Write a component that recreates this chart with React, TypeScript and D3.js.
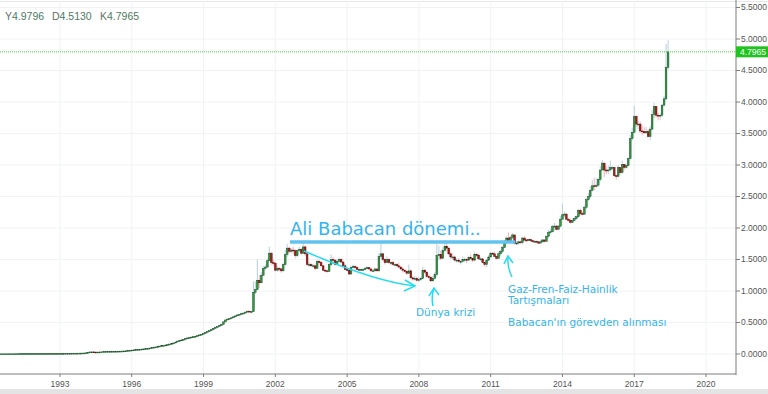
import React, { useEffect } from "react";
import * as d3 from "d3";

const WIDTH = 768;
const HEIGHT = 394;

// monthly closes Jan 1990 - Dec 2000
const closes1990s = [
  0.0022, 0.0022, 0.0023, 0.0023, 0.0023, 0.0024, 0.0025, 0.0026, 0.0026, 0.0027, 0.0028, 0.0029,
  0.003, 0.0032, 0.0035, 0.0038, 0.004, 0.0042, 0.0044, 0.0046, 0.0048, 0.0049, 0.005, 0.005,
  0.0052, 0.0055, 0.0058, 0.0061, 0.0064, 0.0066, 0.0068, 0.007, 0.0073, 0.0076, 0.008, 0.0085,
  0.0088, 0.0091, 0.0095, 0.0099, 0.0103, 0.0108, 0.0113, 0.0118, 0.0122, 0.0128, 0.0135, 0.0145,
  0.016, 0.0185, 0.0215, 0.033, 0.034, 0.031, 0.0305, 0.031, 0.0325, 0.0345, 0.0365, 0.0385,
  0.04, 0.041, 0.042, 0.043, 0.043, 0.044, 0.045, 0.046, 0.048, 0.05, 0.054, 0.059,
  0.062, 0.065, 0.068, 0.072, 0.075, 0.078, 0.081, 0.085, 0.089, 0.094, 0.1, 0.107,
  0.112, 0.118, 0.126, 0.132, 0.137, 0.143, 0.15, 0.158, 0.166, 0.175, 0.19, 0.205,
  0.215, 0.224, 0.233, 0.245, 0.255, 0.263, 0.269, 0.274, 0.282, 0.291, 0.303, 0.314,
  0.328, 0.345, 0.358, 0.371, 0.388, 0.408, 0.425, 0.437, 0.45, 0.47, 0.51, 0.54,
  0.555, 0.565, 0.575, 0.59, 0.605, 0.62, 0.63, 0.64, 0.65, 0.665, 0.68, 0.672,
];

// monthly closes Jan 2001 - Jun 2018
const closes2001on = [
  0.673, 0.98, 1.02, 1.17, 1.13, 1.25, 1.36, 1.38, 1.48, 1.6, 1.45, 1.44,
  1.33, 1.36, 1.35, 1.32, 1.42, 1.58, 1.68, 1.63, 1.65, 1.64, 1.56, 1.64,
  1.66, 1.6, 1.7, 1.59, 1.42, 1.42, 1.4, 1.4, 1.36, 1.47, 1.45, 1.4,
  1.33, 1.32, 1.31, 1.42, 1.5, 1.49, 1.42, 1.47, 1.5, 1.46, 1.4, 1.34,
  1.33, 1.27, 1.37, 1.39, 1.37, 1.34, 1.34, 1.34, 1.34, 1.36, 1.37, 1.35,
  1.32, 1.32, 1.35, 1.32, 1.55, 1.59, 1.5, 1.45, 1.5, 1.45, 1.45, 1.42,
  1.42, 1.4, 1.38, 1.35, 1.33, 1.31, 1.28, 1.32, 1.21, 1.19, 1.2, 1.17,
  1.18, 1.2, 1.33, 1.3, 1.23, 1.22, 1.16, 1.2, 1.26, 1.56, 1.58, 1.52,
  1.64, 1.71, 1.68, 1.59, 1.54, 1.54, 1.49, 1.49, 1.47, 1.47, 1.5, 1.5,
  1.49, 1.53, 1.52, 1.49, 1.58, 1.57, 1.51, 1.51, 1.45, 1.42, 1.49, 1.54,
  1.6, 1.59, 1.55, 1.52, 1.59, 1.63, 1.69, 1.78, 1.84, 1.77, 1.85, 1.89,
  1.76, 1.76, 1.78, 1.77, 1.84, 1.81, 1.8, 1.82, 1.8, 1.79, 1.79, 1.78,
  1.76, 1.78, 1.81, 1.79, 1.87, 1.93, 1.94, 2.02, 2.03, 1.98, 2.03, 2.14,
  2.21, 2.22, 2.14, 2.12, 2.09, 2.12, 2.15, 2.18, 2.28, 2.23, 2.22, 2.33,
  2.45, 2.5, 2.6, 2.67, 2.66, 2.68, 2.77, 2.92, 3.03, 2.92, 2.91, 2.92,
  2.96, 2.96, 2.83, 2.82, 2.96, 2.88, 3.01, 2.96, 2.99, 3.1, 3.42, 3.52,
  3.77, 3.65, 3.65, 3.54, 3.53, 3.51, 3.53, 3.45, 3.57, 3.8, 3.93, 3.79,
  3.78, 3.79, 3.95, 4.05, 4.55, 4.7965,
];

const highs2001on = [
  0.69, 1.15, 1.15, 1.5, 1.25, 1.3, 1.4, 1.42, 1.52, 1.7, 1.62, 1.5,
  1.46, 1.4, 1.38, 1.37, 1.45, 1.65, 1.75, 1.7, 1.68, 1.7, 1.66, 1.66,
  1.7, 1.68, 1.77, 1.72, 1.6, 1.46, 1.44, 1.43, 1.42, 1.5, 1.5, 1.47,
  1.41, 1.35, 1.34, 1.45, 1.58, 1.54, 1.5, 1.5, 1.53, 1.52, 1.47, 1.43,
  1.37, 1.34, 1.4, 1.42, 1.41, 1.4, 1.37, 1.36, 1.36, 1.38, 1.39, 1.38,
  1.36, 1.34, 1.37, 1.35, 1.6, 1.76, 1.6, 1.52, 1.55, 1.52, 1.48, 1.48,
  1.44, 1.44, 1.45, 1.4, 1.38, 1.35, 1.33, 1.42, 1.34, 1.23, 1.24, 1.22,
  1.22, 1.22, 1.38, 1.35, 1.31, 1.26, 1.23, 1.24, 1.3, 1.78, 1.72, 1.64,
  1.7, 1.8, 1.8, 1.7, 1.62, 1.6, 1.56, 1.52, 1.52, 1.5, 1.55, 1.53,
  1.52, 1.56, 1.58, 1.53, 1.62, 1.6, 1.58, 1.54, 1.52, 1.45, 1.5, 1.57,
  1.62, 1.62, 1.62, 1.56, 1.62, 1.65, 1.72, 1.81, 1.87, 1.93, 1.88, 1.92,
  1.88, 1.79, 1.8, 1.8, 1.86, 1.87, 1.83, 1.83, 1.83, 1.81, 1.81, 1.8,
  1.79, 1.81, 1.83, 1.82, 1.88, 1.97, 1.99, 2.05, 2.08, 2.05, 2.05, 2.19,
  2.39, 2.26, 2.24, 2.16, 2.15, 2.15, 2.18, 2.2, 2.3, 2.31, 2.26, 2.36,
  2.48, 2.56, 2.66, 2.76, 2.8, 2.79, 2.8, 2.98, 3.08, 3.03, 2.98, 2.99,
  3.07, 2.98, 2.97, 2.85, 3.0, 2.96, 3.07, 3.01, 3.02, 3.12, 3.48, 3.59,
  3.94, 3.79, 3.7, 3.69, 3.63, 3.6, 3.6, 3.57, 3.62, 3.88, 3.99, 3.93,
  3.83, 3.82, 3.97, 4.1, 4.92, 4.9796,
];

const lows2001on = [
  0.66, 0.67, 0.95, 1.02, 1.05, 1.13, 1.24, 1.33, 1.37, 1.47, 1.42, 1.4,
  1.31, 1.31, 1.31, 1.29, 1.31, 1.4, 1.54, 1.6, 1.6, 1.58, 1.52, 1.53,
  1.62, 1.58, 1.59, 1.55, 1.4, 1.38, 1.38, 1.37, 1.33, 1.35, 1.42, 1.38,
  1.32, 1.3, 1.29, 1.31, 1.39, 1.44, 1.4, 1.41, 1.45, 1.44, 1.38, 1.33,
  1.31, 1.25, 1.26, 1.36, 1.34, 1.33, 1.32, 1.32, 1.32, 1.33, 1.34, 1.33,
  1.3, 1.3, 1.31, 1.31, 1.31, 1.5, 1.47, 1.42, 1.45, 1.43, 1.41, 1.4,
  1.4, 1.38, 1.37, 1.33, 1.29, 1.29, 1.26, 1.27, 1.2, 1.16, 1.17, 1.15,
  1.15, 1.16, 1.19, 1.27, 1.21, 1.2, 1.15, 1.16, 1.18, 1.22, 1.49, 1.49,
  1.51, 1.62, 1.63, 1.57, 1.51, 1.5, 1.47, 1.45, 1.45, 1.42, 1.45, 1.46,
  1.44, 1.48, 1.5, 1.46, 1.48, 1.53, 1.5, 1.48, 1.44, 1.39, 1.38, 1.48,
  1.53, 1.57, 1.54, 1.5, 1.51, 1.55, 1.6, 1.68, 1.75, 1.76, 1.76, 1.82,
  1.74, 1.73, 1.74, 1.75, 1.74, 1.79, 1.78, 1.79, 1.78, 1.77, 1.77, 1.76,
  1.75, 1.76, 1.77, 1.77, 1.78, 1.84, 1.91, 1.93, 1.96, 1.96, 1.97, 2.01,
  2.13, 2.17, 2.13, 2.1, 2.07, 2.08, 2.11, 2.13, 2.16, 2.2, 2.2, 2.21,
  2.3, 2.43, 2.48, 2.58, 2.6, 2.64, 2.65, 2.74, 2.92, 2.81, 2.86, 2.86,
  2.92, 2.92, 2.81, 2.77, 2.81, 2.85, 2.86, 2.92, 2.94, 3.0, 3.09, 3.39,
  3.59, 3.6, 3.57, 3.51, 3.47, 3.5, 3.5, 3.44, 3.4, 3.55, 3.74, 3.75,
  3.71, 3.72, 3.77, 3.93, 4.03, 4.513,
];

const yearTicks = [1993, 1996, 1999, 2002, 2005, 2008, 2011, 2014, 2017, 2020];
const priceTicks = [0, 0.5, 1, 1.5, 2, 2.5, 3, 3.5, 4, 4.5, 5, 5.5];

const lastHigh = "4.9796";
const lastLow = "4.5130";
const lastClose = 4.7965;

interface Candle {
  date: Date;
  o: number;
  h: number;
  l: number;
  c: number;
}

const App: React.FunctionComponent = function () {
  useEffect(() => {
    document.body.style.margin = "0";
  }, []);

  const plotRight = 736;
  const axisY = 374;

  const x = d3
    .scaleTime()
    .domain([new Date(1993, 0, 1), new Date(2020, 0, 1)])
    .range([60, 706]);
  const y = d3.scaleLinear().domain([0, 5.5]).range([354, 7.5]);

  const closes = closes1990s.concat(closes2001on);
  const candles: Candle[] = closes.map((c, i) => {
    const o = i > 0 ? closes[i - 1] : c;
    const j = i - closes1990s.length;
    const h = j >= 0 ? Math.max(highs2001on[j], o, c) : Math.max(o, c);
    const l = j >= 0 ? Math.min(lows2001on[j], o, c) : Math.min(o, c);
    return { date: new Date(1990, i, 1), o, h, l, c };
  });

  const bodyW = 1.7;
  const font = "'Liberation Sans', Arial, sans-serif";
  const noteFont = "'DejaVu Sans', Verdana, sans-serif";
  const noteColor = "#35b3ee";
  const arrowColor = "#22dcef";

  const curve = d3.path();
  curve.moveTo(304, 251);
  curve.quadraticCurveTo(376, 282, 415, 286);

  return (
    <svg width={WIDTH} height={HEIGHT} style={{ display: "block", background: "#fff" }}>
      <defs>
        <clipPath id="plot">
          <rect x={0} y={0} width={plotRight} height={axisY} />
        </clipPath>
      </defs>
      <line x1={0} x2={WIDTH} y1={1.5} y2={1.5} stroke="#e6e8ec" strokeWidth={1} />
      {/* grid */}
      {yearTicks.map((yr) => (
        <line
          key={"gx" + yr}
          x1={x(new Date(yr, 0, 1))}
          x2={x(new Date(yr, 0, 1))}
          y1={3}
          y2={axisY}
          stroke="#f0f2f5"
        />
      ))}
      {priceTicks.map((p) => (
        <line key={"gy" + p} x1={0} x2={plotRight} y1={y(p)} y2={y(p)} stroke="#f0f2f5" />
      ))}

      {/* candles */}
      <g clipPath="url(#plot)">
        {candles.map((d, i) => {
          const cx = x(d.date);
          const up = d.c >= d.o;
          return (
            <line
              key={"w" + i}
              x1={cx}
              x2={cx}
              y1={y(d.h)}
              y2={y(d.l)}
              stroke={up ? "#b7cee0" : "#f4b2b8"}
              strokeWidth={1}
            />
          );
        })}
        {candles.map((d, i) => {
          const cx = x(d.date);
          const up = d.c >= d.o;
          const top = y(Math.max(d.o, d.c));
          const hgt = Math.max(Math.abs(y(d.o) - y(d.c)), 0.9);
          return (
            <rect
              key={"b" + i}
              x={cx - bodyW / 2}
              y={top}
              width={bodyW}
              height={hgt}
              fill={up ? "#2b9e3a" : "#b01a1a"}
              stroke={up ? "#1f4f2d" : "#5c0c0c"}
              strokeWidth={0.5}
            />
          );
        })}
      </g>

      {/* last price line */}
      <line
        x1={0}
        x2={plotRight}
        y1={y(lastClose)}
        y2={y(lastClose)}
        stroke="#3fd43f"
        strokeWidth={1}
        strokeDasharray="1,1"
      />

      {/* annotations */}
      <text x={290} y={235} fontFamily={noteFont} fontSize={18} fill={noteColor}>
        Ali Babacan dönemi..
      </text>
      <line x1={290} x2={515} y1={242} y2={242} stroke="#62c3f0" strokeWidth={3.5} />
      <path d={curve.toString()} fill="none" stroke={arrowColor} strokeWidth={1.5} />
      <path d="M405,280 L415,286 L404,291" fill="none" stroke={arrowColor} strokeWidth={1.5} />
      <path d="M434,288 Q431,297 433,306" fill="none" stroke={arrowColor} strokeWidth={1.5} />
      <path d="M429,296 L434,288 L439,295" fill="none" stroke={arrowColor} strokeWidth={1.5} />
      <path d="M508,256 Q507,267 512,277" fill="none" stroke={arrowColor} strokeWidth={1.5} />
      <path d="M504,264 L508,256 L513,263" fill="none" stroke={arrowColor} strokeWidth={1.5} />
      <text x={416} y={316} fontFamily={noteFont} fontSize={10.5} fill={noteColor}>
        Dünya krizi
      </text>
      <text x={508} y={293} fontFamily={noteFont} fontSize={10.5} fill={noteColor}>
        Gaz-Fren-Faiz-Hainlik
      </text>
      <text x={508} y={304} fontFamily={noteFont} fontSize={10.5} fill={noteColor}>
        Tartışmaları
      </text>
      <text x={508} y={326} fontFamily={noteFont} fontSize={10.5} fill={noteColor}>
        Babacan'ın görevden alınması
      </text>

      {/* legend */}
      <g fontFamily={font} fontSize={10.5}>
        <text x={5} y={20}>
          <tspan fill="#667069">Y</tspan>
          <tspan fill="#4d7a62">{lastHigh}</tspan>
        </text>
        <text x={52} y={20}>
          <tspan fill="#667069">D</tspan>
          <tspan fill="#4d7a62">{lastLow}</tspan>
        </text>
        <text x={100} y={20}>
          <tspan fill="#667069">K</tspan>
          <tspan fill="#4d7a62">{lastClose.toFixed(4)}</tspan>
        </text>
      </g>

      {/* right axis */}
      <line x1={plotRight} x2={plotRight} y1={0} y2={axisY + 1} stroke="#7d7d7d" />
      {priceTicks.map((p) => (
        <g key={"ty" + p}>
          <line x1={plotRight} x2={plotRight + 4} y1={y(p)} y2={y(p)} stroke="#7d7d7d" />
          <text
            x={741}
            y={y(p)}
            dy="0.35em"
            fontFamily={font}
            fontSize={8.5}
            fill="#555"
          >
            {p.toFixed(4)}
          </text>
        </g>
      ))}
      <rect x={plotRight} y={y(lastClose) - 5.5} width={WIDTH - plotRight} height={11} fill="#1fc41f" />
      <text
        x={740}
        y={y(lastClose)}
        dy="0.35em"
        fontFamily={font}
        fontSize={8.5}
        fill="#fff"
      >
        {lastClose.toFixed(4)}
      </text>

      {/* bottom axis */}
      <line x1={0} x2={plotRight} y1={axisY} y2={axisY} stroke="#7d7d7d" />
      {yearTicks.map((yr) => (
        <g key={"tx" + yr}>
          <line
            x1={x(new Date(yr, 0, 1))}
            x2={x(new Date(yr, 0, 1))}
            y1={axisY}
            y2={axisY + 3}
            stroke="#7d7d7d"
          />
          <text
            x={x(new Date(yr, 0, 1))}
            y={384}
            dy="0.35em"
            textAnchor="middle"
            fontFamily={font}
            fontSize={8.5}
            fill="#555"
          >
            {yr}
          </text>
        </g>
      ))}
      <rect x={0} y={389} width={WIDTH} height={5} fill="#e4e4e4" />
    </svg>
  );
};

export default App;
